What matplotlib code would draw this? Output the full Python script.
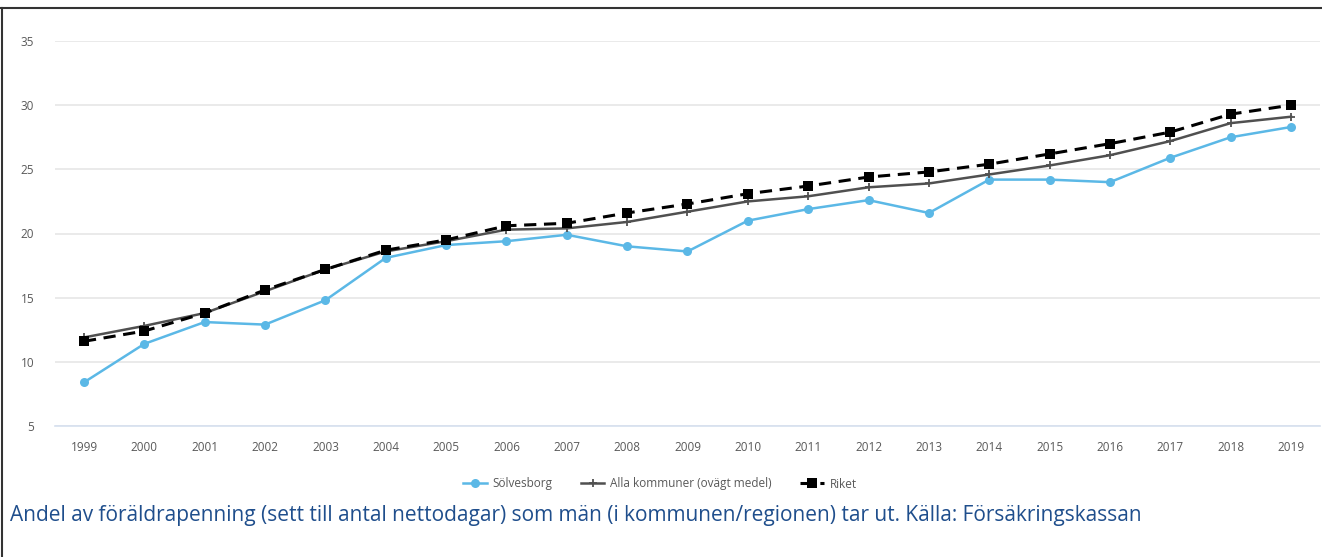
import matplotlib
matplotlib.use("Agg")
import matplotlib.pyplot as plt
from matplotlib.lines import Line2D

years = ["1999", "2000", "2001", "2002", "2003", "2004", "2005", "2006", "2007", "2008",
         "2009", "2010", "2011", "2012", "2013", "2014", "2015", "2016", "2017", "2018", "2019"]
solvesborg = [8.4, 11.4, 13.1, 12.9, 14.8, 18.1, 19.1, 19.4, 19.9, 19.0,
              18.6, 21.0, 21.9, 22.6, 21.6, 24.2, 24.2, 24.0, 25.9, 27.5, 28.3]
alla_kommuner = [11.9, 12.8, 13.8, 15.5, 17.2, 18.6, 19.4, 20.3, 20.4, 20.9,
                 21.7, 22.5, 22.9, 23.6, 23.9, 24.6, 25.3, 26.1, 27.2, 28.6, 29.1]
riket = [11.6, 12.4, 13.8, 15.6, 17.2, 18.7, 19.5, 20.6, 20.8, 21.6,
         22.3, 23.1, 23.7, 24.4, 24.8, 25.4, 26.2, 27.0, 27.9, 29.3, 30.0]
yticks = [5, 10, 15, 20, 25, 30, 35]
series_names = ["Sölvesborg", "Alla kommuner (ovägt medel)", "Riket"]
caption = ("Andel av föräldrapenning (sett till antal nettodagar) som män "
           "(i kommunen/regionen) tar ut. Källa: Försäkringskassan")

W, H = 1322, 557
fig = plt.figure(figsize=(W / 100, H / 100), dpi=100)
fig.patch.set_facecolor("white")

# axes: x 55..1320, y 41..426 (pixels from top)
ax = fig.add_axes([55 / W, 1 - 426 / H, (1320 - 55) / W, (426 - 41) / H])
x = list(range(len(years)))

l1, = ax.plot(x, solvesborg, color="#5bb8e6", lw=1.8, marker="o", ms=6.5,
              markeredgewidth=0, label=series_names[0], zorder=3)
l2, = ax.plot(x, alla_kommuner, color="#505050", lw=1.8, marker="+", ms=6,
              markeredgewidth=1.3, label=series_names[1], zorder=4)
l3, = ax.plot(x, riket, color="#000000", lw=2.2, ls=(0, (4, 2.5)), marker="s", ms=7.5,
              markeredgewidth=0, label=series_names[2], zorder=5)

ax.set_xlim(-0.48, len(years) - 1 + 0.48)
ax.set_ylim(5, 35)
ax.set_yticks(yticks)
ax.set_xticks(x)
ax.set_xticklabels(years)
ax.grid(axis="y", color="#e6e6e6", lw=1.2, zorder=0)
ax.set_axisbelow(True)
for s in ["top", "right", "left"]:
    ax.spines[s].set_visible(False)
ax.spines["bottom"].set_color("#d6e0ef")
ax.spines["bottom"].set_linewidth(1.2)
ax.tick_params(axis="both", length=0, labelsize=8.5, labelcolor="#595959")
ax.tick_params(axis="x", pad=11)
ax.tick_params(axis="y", pad=15)
for lab in ax.get_xticklabels() + ax.get_yticklabels():
    lab.set_family("Open Sans")

leg = fig.legend(handles=[l1, l2, l3], loc="center", bbox_to_anchor=(660 / W, 1 - 484 / H),
                 ncol=3, frameon=False, handlelength=2.0, columnspacing=2.4,
                 handletextpad=0.5, prop={"family": "Open Sans", "size": 8.5})
for t in leg.get_texts():
    t.set_color("#595959")

fig.text(10 / W, 1 - 516 / H, caption, ha="left", va="center", fontsize=15,
         color="#1f4e8c", family="Open Sans")

# outer frame: top and left lines
fig.add_artist(Line2D([1 / W, 1], [1 - 8 / H, 1 - 8 / H], color="#333333", lw=1.5,
                      transform=fig.transFigure))
fig.add_artist(Line2D([1.5 / W, 1.5 / W], [0, 1 - 8 / H], color="#333333", lw=1.5,
                      transform=fig.transFigure))

fig.savefig("out.png", dpi=100)
